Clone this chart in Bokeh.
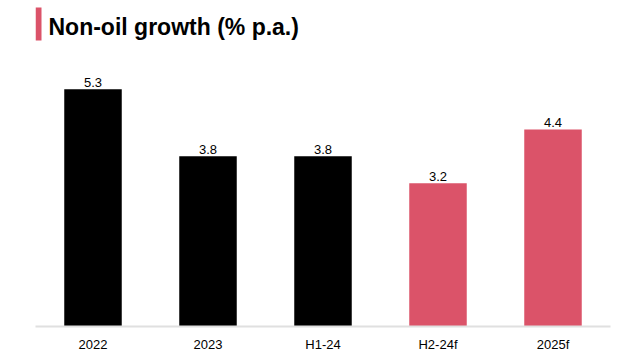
from bokeh.plotting import figure
from bokeh.models import ColumnDataSource, LabelSet, Label, BoxAnnotation, Range1d
from bokeh.core.properties import value
from bokeh.embed import file_html
from bokeh.resources import INLINE

categories = ["2022", "2023", "H1-24", "H2-24f", "2025f"]
values = [5.3, 3.8, 3.8, 3.2, 4.4]
colors = ["#000000", "#000000", "#000000", "#DB5369", "#DB5369"]
value_labels = ["5.3", "3.8", "3.8", "3.2", "4.4"]
title_text = "Non-oil growth (% p.a.)"

FONT = "Liberation Sans"

src = ColumnDataSource(dict(cat=categories, val=values, col=colors, lab=value_labels))

p = figure(x_range=categories, width=622, height=359, output_backend="svg",
           toolbar_location=None, min_border_left=35, min_border_right=12,
           min_border_top=0, min_border_bottom=33)
p.y_range = Range1d(0, 7.28)
p.x_range.range_padding = 0

p.vbar(x="cat", top="val", width=0.5, color="col", source=src, line_color=None)

labels = LabelSet(x="cat", y="val", text="lab", source=src, y_offset=2,
                  text_align="center", text_baseline="bottom",
                  text_font_size="13px", text_color="#000000", text_font=value(FONT))
p.add_layout(labels)

p.yaxis.visible = False
p.xgrid.visible = False
p.ygrid.visible = False
p.outline_line_color = None
p.xaxis.axis_line_color = "#E0E0E0"
p.xaxis.axis_line_width = 2
p.xaxis.major_tick_line_color = None
p.xaxis.minor_tick_line_color = None
p.xaxis.major_label_standoff = 4
p.xaxis.major_label_text_font_size = "13px"
p.xaxis.major_label_text_color = "#000000"
p.xaxis.major_label_text_font = FONT

title = Label(x=13, y=300, x_units="screen", y_units="screen", text=title_text,
              text_font=FONT, text_font_size="23px", text_font_style="bold",
              text_color="#000000", text_baseline="alphabetic", text_align="left")
p.add_layout(title)

accent = BoxAnnotation(left=0, right=6, bottom=286, top=319, left_units="screen",
                       right_units="screen", bottom_units="screen", top_units="screen",
                       fill_color="#DB5369", fill_alpha=1.0, line_color=None)
p.add_layout(accent)

open("out.html", "w").write(file_html(p, INLINE))
